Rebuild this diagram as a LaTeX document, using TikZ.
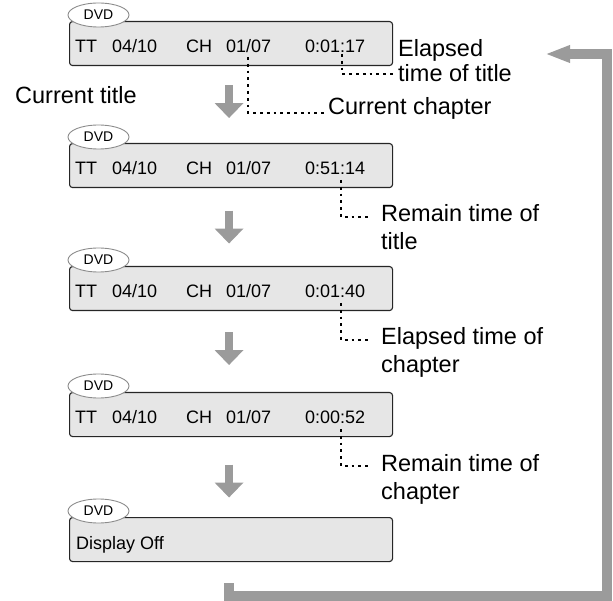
\documentclass[tikz,border=0pt]{standalone}
\usepackage{fontspec}
\setmainfont{Liberation Sans}
\usetikzlibrary{arrows.meta,calc,positioning,shapes.geometric}
\definecolor{loopgray}{RGB}{155,155,155}
\definecolor{panelfill}{RGB}{230,230,230}
\tikzset{
  dispbox/.style={draw=black!85, fill=panelfill, line width=1.1pt, rounded corners=3pt,
    minimum width=323pt, minimum height=44pt, anchor=north west, inner sep=0pt},
  dvdtag/.style={ellipse, draw=black!45, fill=white, line width=0.9pt, minimum width=61pt,
    minimum height=24pt, inner sep=0pt, font=\fontsize{14}{16}\selectfont},
  boxtext/.style={anchor=base west, inner sep=0pt, font=\fontsize{18}{21}\selectfont},
  note/.style={anchor=base west, inner sep=0pt, align=left, font=\fontsize{23.5}{28}\selectfont},
  leader/.style={line width=2.8pt, dash pattern=on 2.8pt off 4pt},
  stepdown/.style={loopgray, line width=8pt, -{Triangle[width=28pt,length=15pt]}},
  loopline/.style={loopgray, line width=10.5pt, -{Triangle[width=16pt,length=25pt]}}
}
\begin{document}
\begin{tikzpicture}[x=1pt, y=-1pt]
\useasboundingbox (0,0) rectangle (613,601);
% display panels
\foreach \i/\top in {1/21,2/143,3/266,4/392,5/517}{
  \node[dispbox] (b\i) at (69,\top) {};
  \node[dvdtag] (tag\i) at ($(b\i.north west)+(29.5,-6)$) {DVD};
}
\foreach \i/\tm in {1/0:01:17,2/0:51:14,3/0:01:40,4/0:00:52}{
  \node[boxtext] (tt\i) at ($(b\i.north west)+(6,32)$) {TT};
  \node[boxtext] (ttn\i) at ($(b\i.north west)+(43,32)$) {04/10};
  \node[boxtext] (ch\i) at ($(b\i.north west)+(117,32)$) {CH};
  \node[boxtext] (chn\i) at ($(b\i.north west)+(157,32)$) {01/07};
  \node[boxtext] (tm\i) at ($(b\i.north west)+(236,32)$) {\tm};
}
\node[boxtext] (off) at ($(b5.north west)+(7,32)$) {Display Off};

% labels (base = last line)
\node[note] (curtitle) at (15,104) {Current title};
\node[note] (curchap) at (328,115) {Current chapter};
\node[note] (lab1) at (398,82) {Elapsed\\[-3pt]time of title};
\node[note] (lab2) at (381,250) {Remain time of\\title};
\node[note] (lab3) at (381,373) {Elapsed time of\\chapter};
\node[note] (lab4) at (381,499) {Remain time of\\chapter};

% dotted leaders
\draw[leader] ($(chn1.base west)+(22,4)$) |- ($(curchap.base west)+(-1,-2)$);
\draw[leader] ($(tm1.base west)+(37,1)$) |- ($(lab1.base west)+(-2,-8)$);
\foreach \i in {2,3,4}
  \draw[leader] ($(tm\i.base west)+(36,5)$) |- ($(lab\i.base west)+(-12,-33)$);

% step arrows
\foreach \i/\j/\d in {1/2/-3,2/3/0,3/4/-3,4/5/4}
  \draw[stepdown] ($(b\i.south)!.5!(b\j.north)+(-2,\d-16.5)$) -- ++(0,33);

% return loop
\coordinate (loopin) at ($(b5.south)+(-2,21)$);
\coordinate (loopout) at ($(b1.north east)+(152,33)$);
\draw[loopline] (loopin) |- (607,596) |- (loopout);
\end{tikzpicture}
\end{document}
